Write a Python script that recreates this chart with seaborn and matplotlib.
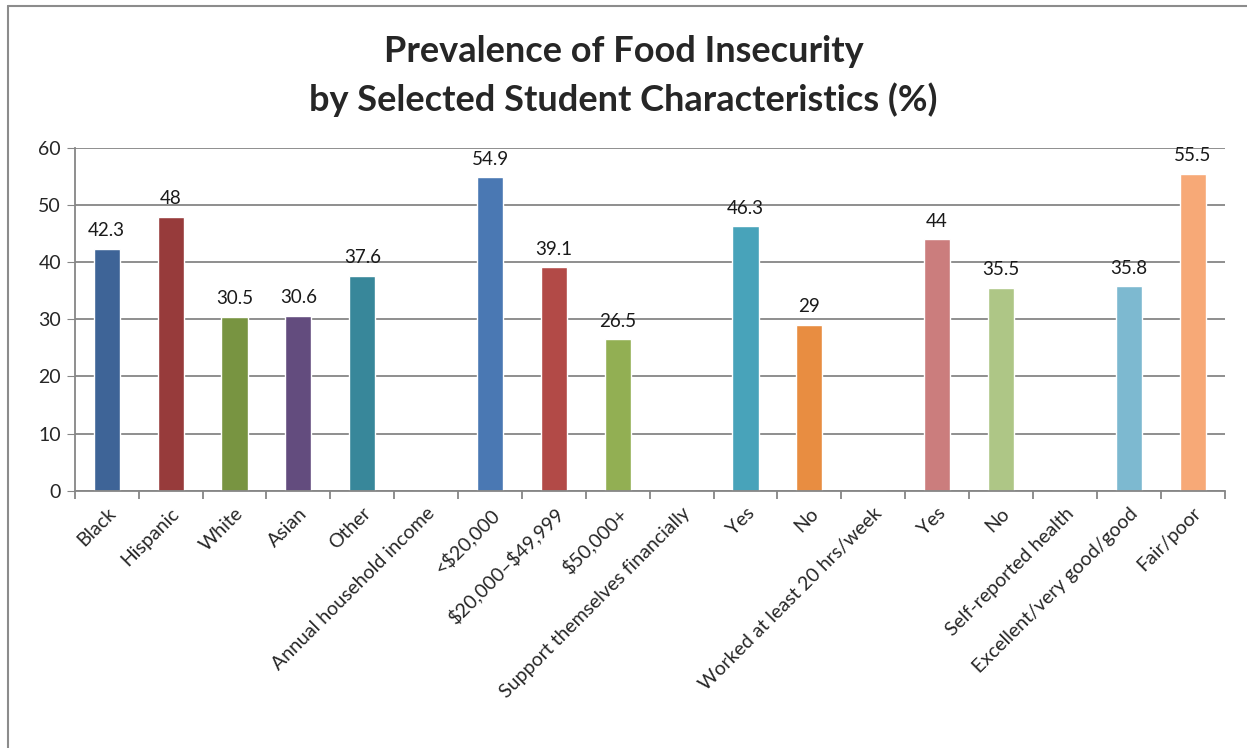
import matplotlib
matplotlib.use("Agg")
import matplotlib.pyplot as plt
from matplotlib.lines import Line2D
import seaborn as sns
import pandas as pd

categories = ["Black", "Hispanic", "White", "Asian", "Other",
              "Annual household income", "<\\$20,000", "\\$20,000\u2013\\$49,999", "\\$50,000+",
              "Support themselves financially", "Yes", "No",
              "Worked at least 20 hrs/week", "Yes", "No",
              "Self-reported health", "Excellent/very good/good", "Fair/poor"]
values = [42.3, 48, 30.5, 30.6, 37.6,
          None, 54.9, 39.1, 26.5,
          None, 46.3, 29,
          None, 44, 35.5,
          None, 35.8, 55.5]
colors = ["#3E6497", "#973B3B", "#789441", "#634C7E", "#38879A",
          "#FFFFFF", "#4A78B3", "#B24A47", "#92AF53",
          "#FFFFFF", "#48A3BA", "#E88D41",
          "#FFFFFF", "#CB7D7D", "#AEC686",
          "#FFFFFF", "#7DB9D0", "#F7A977"]

df = pd.DataFrame({"pos": [str(i) for i in range(len(categories))],
                   "label": categories,
                   "value": [v if v is not None else 0 for v in values]})

sns.set_style("white")
plt.rcParams["font.family"] = ["Lato", "DejaVu Sans"]

fig = plt.figure(figsize=(12.47, 7.48), dpi=100)
ax = fig.add_axes([0.060, 0.344, 0.922, 0.458])

sns.barplot(data=df, x="pos", y="value", hue="pos", palette=colors,
            legend=False, width=0.41, ax=ax, saturation=1)

for i, v in enumerate(values):
    if v is not None:
        ax.annotate(f"{v:g}", (i, v), xytext=(0, 7), textcoords="offset points",
                    ha="center", va="bottom", fontsize=13.5, color="#1a1a1a")

ax.set_xlim(-0.5, len(categories) - 0.5)
ax.set_ylim(0, 60)
ax.set_yticks(range(0, 61, 10))
ax.yaxis.grid(True, color="#868686", linewidth=1.3)
ax.set_axisbelow(True)
ax.set_xlabel("")
ax.set_ylabel("")

ax.set_xticks(range(len(categories)))
ax.set_xticklabels(categories, rotation=45, ha="right", rotation_mode="anchor",
                   fontsize=14)
ax.tick_params(axis="x", length=0, pad=10)
ax.tick_params(axis="y", left=True, length=6, color="#868686", labelsize=14, pad=4)
# boundary ticks, Excel style
ax.set_xticks([i - 0.5 for i in range(len(categories) + 1)], minor=True)
ax.tick_params(axis="x", which="minor", bottom=True, length=6, color="#868686", width=1.3)

for s in ["top", "right"]:
    ax.spines[s].set_visible(False)
for s in ["left", "bottom"]:
    ax.spines[s].set_color("#868686")
    ax.spines[s].set_linewidth(1.3)

fig.suptitle("Prevalence of Food Insecurity\nby Selected Student Characteristics (%)",
             fontsize=26, fontweight="bold", y=0.953, linespacing=1.5)

# chart area border (left and top)
fig.add_artist(Line2D([8 / 1247, 8 / 1247], [0, 1 - 6 / 748], color="#8c8c8c",
                      linewidth=1.5, transform=fig.transFigure))
fig.add_artist(Line2D([8 / 1247, 1], [1 - 6 / 748, 1 - 6 / 748], color="#8c8c8c",
                      linewidth=1.5, transform=fig.transFigure))

fig.savefig("out.png", dpi=100)
